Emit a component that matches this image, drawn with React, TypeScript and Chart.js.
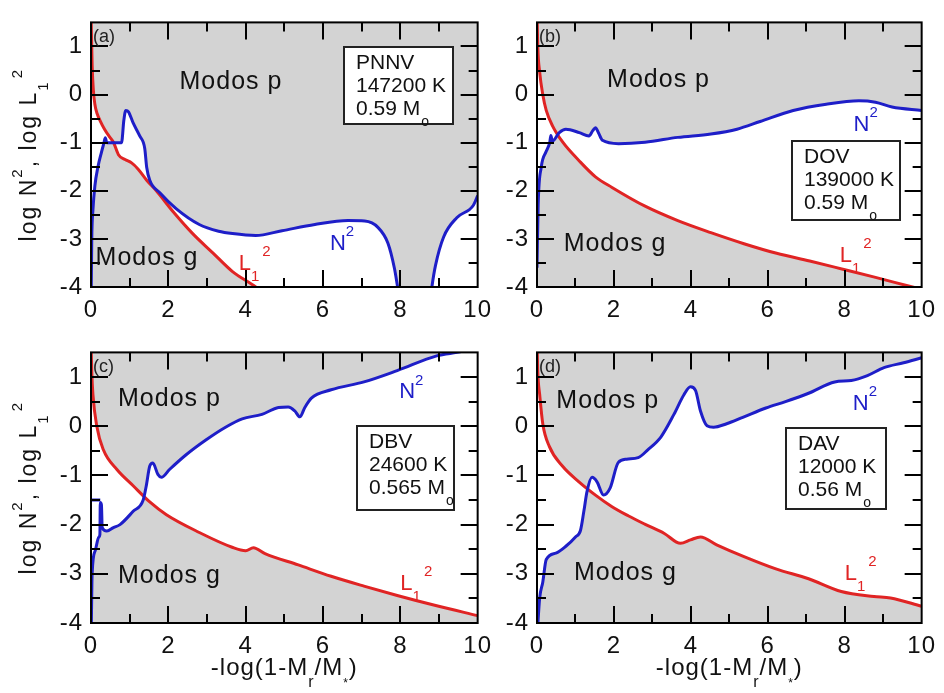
import React, { useEffect, useRef } from "react";
import { Chart, registerables } from "chart.js";
Chart.register(...registerables);

// ---------- ticks ----------
const X_TICKS = [0, 2, 4, 6, 8, 10];
const X_MINOR = [1, 3, 5, 7, 9];
const Y_TICKS = [-4, -3, -2, -1, 0, 1];
const Y_MINOR = [-3.5, -2.5, -1.5, -0.5, 0.5];

// ---------- panel (a) PNNV ----------
const aN2X = [0, 0.02, 0.05, 0.1, 0.18, 0.27, 0.33, 0.37, 0.41, 0.5, 0.65, 0.79, 0.85, 0.9, 0.97, 1.09, 1.26, 1.39, 1.44, 1.52, 1.78, 2.2, 2.8, 3.3, 3.66, 4.26, 4.94, 5.79, 6.65, 7.08, 7.42, 7.68, 7.85, 7.93, 8.1, 8.4, 8.7, 8.82, 8.91, 9.12, 9.46, 9.89, 10];
const aN2Y = [-4.6, -3.0, -2.4, -1.9, -1.5, -1.2, -1.02, -0.9, -1.0, -1.0, -1.0, -1.0, -0.53, -0.33, -0.36, -0.59, -0.86, -1.12, -1.51, -1.78, -2.04, -2.37, -2.7, -2.84, -2.89, -2.93, -2.83, -2.7, -2.62, -2.63, -2.76, -3.09, -3.62, -4.0, -4.8, -5.5, -4.8, -3.98, -3.55, -2.96, -2.56, -2.3, -2.1];
const aL2X = [0, 0.03, 0.06, 0.1, 0.16, 0.24, 0.35, 0.48, 0.58, 0.71, 0.88, 1.05, 1.22, 1.44, 1.69, 2.12, 2.63, 3.15, 3.66, 4.26, 5, 6, 7, 8, 9, 10];
const aL2Y = [1.7, 0.6, 0.1, -0.2, -0.4, -0.55, -0.72, -0.88, -0.99, -1.25, -1.35, -1.42, -1.55, -1.78, -2.0, -2.43, -2.89, -3.29, -3.68, -4.0, -4.5, -5.0, -5.5, -6.0, -6.4, -6.8];

// ---------- panel (b) DOV ----------
const bN2X = [0, 0.03, 0.11, 0.24, 0.33, 0.36, 0.4, 0.58, 0.75, 1.1, 1.35, 1.45, 1.52, 1.6, 1.7, 2.12, 2.81, 3.66, 4.52, 5.2, 5.8, 6.66, 7.52, 8.37, 8.8, 9.23, 10];
const bN2Y = [-3.6, -2.3, -1.51, -1.18, -1.0, -0.85, -0.97, -0.79, -0.72, -0.79, -0.86, -0.75, -0.69, -0.8, -0.95, -1.02, -0.99, -0.89, -0.82, -0.72, -0.56, -0.33, -0.2, -0.13, -0.16, -0.26, -0.33];
const bL2X = [0, 0.02, 0.07, 0.15, 0.24, 0.41, 0.67, 1.1, 1.52, 1.95, 2.81, 3.66, 4.52, 5.38, 6.23, 7.09, 7.95, 8.8, 9.66, 10];
const bL2Y = [1.7, 1.0, 0.46, 0.0, -0.33, -0.66, -0.99, -1.38, -1.71, -1.93, -2.32, -2.62, -2.87, -3.1, -3.3, -3.46, -3.63, -3.8, -3.98, -4.05];

// ---------- panel (c) DBV ----------
const cN2X = [0, 0.03, 0.11, 0.2, 0.23, 0.24, 0.27, 0.29, 0.41, 0.58, 0.75, 1.09, 1.35, 1.43, 1.52, 1.6, 1.73, 1.82, 2.03, 2.46, 2.97, 3.48, 3.91, 4.42, 4.85, 5.1, 5.27, 5.4, 5.53, 5.7, 6.21, 7.06, 7.92, 8.94, 9.6, 10];
const cN2Y = [-4.6, -2.99, -2.53, -2.26, -2.2, -1.55, -1.6, -2.06, -2.13, -2.06, -2.0, -1.73, -1.5, -1.21, -0.81, -0.75, -0.98, -1.04, -0.88, -0.58, -0.28, -0.02, 0.15, 0.24, 0.38, 0.39, 0.31, 0.19, 0.38, 0.57, 0.74, 0.9, 1.13, 1.43, 1.52, 1.62];
const cSurfX = [0, 0.24];
const cSurfY = [-1.5, -1.5];
const cL2X = [0, 0.02, 0.05, 0.15, 0.32, 0.67, 1.09, 1.52, 1.95, 2.8, 3.65, 4.0, 4.2, 4.5, 5.36, 6.21, 7.06, 7.92, 8.94, 10];
const cL2Y = [1.7, 1.1, 0.64, 0.0, -0.48, -0.88, -1.21, -1.54, -1.8, -2.16, -2.46, -2.53, -2.47, -2.59, -2.82, -3.05, -3.25, -3.44, -3.65, -3.85];

// ---------- panel (d) DAV ----------
const dN2X = [0, 0.07, 0.15, 0.24, 0.49, 0.75, 1.0, 1.13, 1.22, 1.3, 1.43, 1.56, 1.73, 1.9, 2.11, 2.33, 2.63, 2.88, 3.22, 3.56, 3.82, 3.99, 4.12, 4.25, 4.42, 4.59, 4.93, 5.35, 5.95, 6.46, 7.06, 7.74, 8.17, 8.59, 9.02, 9.53, 10];
const dN2Y = [-4.3, -3.49, -3.17, -2.71, -2.58, -2.44, -2.25, -2.12, -1.72, -1.33, -1.04, -1.13, -1.4, -1.26, -0.74, -0.67, -0.64, -0.48, -0.22, 0.24, 0.64, 0.8, 0.73, 0.31, 0.01, -0.02, 0.05, 0.18, 0.37, 0.5, 0.67, 0.9, 0.93, 1.03, 1.19, 1.29, 1.39];
const dL2X = [0, 0.02, 0.07, 0.15, 0.32, 0.66, 1.09, 1.52, 1.94, 2.37, 2.8, 3.31, 3.73, 3.99, 4.25, 4.67, 5.35, 6.21, 7.06, 7.91, 8.76, 9.19, 10];
const dL2Y = [1.7, 1.1, 0.64, 0.05, -0.41, -0.81, -1.13, -1.4, -1.63, -1.82, -1.99, -2.18, -2.38, -2.31, -2.25, -2.41, -2.64, -2.9, -3.1, -3.36, -3.46, -3.49, -3.66];

// ---------- text ----------
const PANEL_TAGS = ["(a)", "(b)", "(c)", "(d)"];
const STAR_NAMES = ["PNNV", "DOV", "DBV", "DAV"];
const STAR_TEFF = ["147200 K", "139000 K", "24600 K", "12000 K"];
const STAR_MASS = ["0.59 M", "0.59 M", "0.565 M", "0.56 M"];
const P_LABEL = "Modos p";
const G_LABEL = "Modos g";

// ---------- style ----------
const FONT = '"Liberation Sans", Arial, Helvetica, sans-serif';
const GRAY = "#d3d3d3";
const BLUE = "#1e1ec8";
const RED = "#e02424";
const MAJ = 17;
const MIN = 9;

type Part = { t: string; m?: "sup" | "sub"; gap?: number; sc?: number };

function drawRich(
  ctx: CanvasRenderingContext2D,
  parts: Part[],
  x: number,
  y: number,
  size: number,
  color: string,
  align: "left" | "center",
  ls = 0
) {
  ctx.save();
  ctx.fillStyle = color;
  ctx.textAlign = "left";
  ctx.textBaseline = "alphabetic";
  (ctx as any).letterSpacing = ls + "px";
  const items = parts.map((p) => {
    const s = p.m ? Math.round(size * (p.sc || 0.66)) : size;
    ctx.font = `${s}px ${FONT}`;
    return { ...p, s, w: ctx.measureText(p.t).width + (p.gap || 0) };
  });
  const total = items.reduce((acc, it) => acc + it.w, 0);
  let cx = align === "center" ? x - total / 2 : x;
  for (const it of items) {
    ctx.font = `${it.s}px ${FONT}`;
    const dy = it.m === "sup" ? -size * 0.62 : it.m === "sub" ? size * 0.5 : 0;
    ctx.fillText(it.t, cx + (it.gap || 0), y + dy);
    cx += it.w;
  }
  ctx.restore();
}

interface PanelCfg {
  idx: number;
  n2x: number[];
  n2y: number[];
  l2x: number[];
  l2y: number[];
  ex?: number[];
  ey?: number[];
  left: number;
  top: number;
  w: number;
  h: number;
  pad: { left: number; top: number; right: number; bottom: number };
  yw: number;
  xh: number;
  yTitle: boolean;
  xTitle: boolean;
  pPos: [number, number];
  gPos: [number, number];
  nPos: [number, number];
  lPos: [number, number];
  box: [number, number, number, number];
}

const PANELS: PanelCfg[] = [
  {
    idx: 0, n2x: aN2X, n2y: aN2Y, l2x: aL2X, l2y: aL2Y,
    left: 0, top: 0, w: 500, h: 330,
    pad: { left: 0, top: 8, right: 19, bottom: 0 }, yw: 91, xh: 43,
    yTitle: true, xTitle: false,
    pPos: [3.62, 0.12], gPos: [1.45, -3.54], nPos: [6.18, -3.23], lPos: [3.82, -3.64],
    box: [6.54, 0.99, 109, 77],
  },
  {
    idx: 1, n2x: bN2X, n2y: bN2Y, l2x: bL2X, l2y: bL2Y,
    left: 490, top: 0, w: 454, h: 330,
    pad: { left: 0, top: 8, right: 17, bottom: 0 }, yw: 47, xh: 43,
    yTitle: false, xTitle: false,
    pPos: [3.16, 0.16], gPos: [2.03, -3.25], nPos: [8.23, -0.76], lPos: [7.87, -3.48],
    box: [6.63, -0.96, 108, 79],
  },
  {
    idx: 2, n2x: cN2X, n2y: cN2Y, l2x: cL2X, l2y: cL2Y, ex: cSurfX, ey: cSurfY,
    left: 0, top: 330, w: 500, h: 363,
    pad: { left: 0, top: 13, right: 19, bottom: 0 }, yw: 91, xh: 70,
    yTitle: true, xTitle: true,
    pPos: [2.03, 0.41], gPos: [2.03, -3.18], nPos: [7.97, 0.57], lPos: [8.0, -3.32],
    box: [6.87, 0.0, 97, 84],
  },
  {
    idx: 3, n2x: dN2X, n2y: dN2Y, l2x: dL2X, l2y: dL2Y,
    left: 490, top: 330, w: 454, h: 363,
    pad: { left: 0, top: 13, right: 17, bottom: 0 }, yw: 47, xh: 70,
    yTitle: false, xTitle: true,
    pPos: [1.84, 0.37], gPos: [2.3, -3.12], nPos: [8.21, 0.33], lPos: [8.0, -3.12],
    box: [6.47, -0.04, 100, 81],
  },
];

function pts(xs: number[], ys: number[]) {
  return xs.map((x, i) => ({ x, y: ys[i] }));
}

function makePlugin(p: PanelCfg) {
  return {
    id: "panelDeco" + p.idx,
    beforeDraw(chart: any) {
      const { ctx, chartArea: a } = chart;
      ctx.save();
      ctx.fillStyle = GRAY;
      ctx.fillRect(a.left, a.top, a.right - a.left, a.bottom - a.top);
      ctx.restore();
      (ctx as any).letterSpacing = "1px";
    },
    afterDatasetsDraw(chart: any) {
      const { ctx, chartArea: a } = chart;
      const xs = chart.scales.x;
      const ys = chart.scales.y;
      ctx.save();
      ctx.strokeStyle = "#000";
      ctx.lineWidth = 2;
      ctx.beginPath();
      const vt = (v: number, len: number) => {
        const px = Math.round(xs.getPixelForValue(v));
        if (px <= a.left + 1 || px >= a.right - 1) return;
        ctx.moveTo(px, a.bottom);
        ctx.lineTo(px, a.bottom - len);
        ctx.moveTo(px, a.top);
        ctx.lineTo(px, a.top + len);
      };
      const ht = (v: number, len: number) => {
        const py = Math.round(ys.getPixelForValue(v));
        if (py <= a.top + 1 || py >= a.bottom - 1) return;
        ctx.moveTo(a.left, py);
        ctx.lineTo(a.left + len, py);
        ctx.moveTo(a.right, py);
        ctx.lineTo(a.right - len, py);
      };
      X_TICKS.forEach((v) => vt(v, MAJ));
      X_MINOR.forEach((v) => vt(v, MIN));
      Y_TICKS.forEach((v) => ht(v, MAJ));
      Y_MINOR.forEach((v) => ht(v, MIN));
      ctx.stroke();
      ctx.strokeRect(a.left, a.top, a.right - a.left, a.bottom - a.top);
      ctx.restore();

      const X = (v: number) => xs.getPixelForValue(v);
      const Y = (v: number) => ys.getPixelForValue(v);

      // panel tag
      drawRich(ctx, [{ t: PANEL_TAGS[p.idx] }], a.left + 2, a.top + 20, 18, "#222", "left", 0);
      // region labels
      drawRich(ctx, [{ t: P_LABEL }], X(p.pPos[0]), Y(p.pPos[1]), 25, "#111", "center", 1);
      drawRich(ctx, [{ t: G_LABEL }], X(p.gPos[0]), Y(p.gPos[1]), 25, "#111", "center", 1);
      // curve labels
      drawRich(ctx, [{ t: "N" }, { t: "2", m: "sup" }], X(p.nPos[0]), Y(p.nPos[1]), 22, BLUE, "left", 0);
      drawRich(
        ctx,
        [{ t: "L" }, { t: "1", m: "sub" }, { t: "2", m: "sup", gap: 3 }],
        X(p.lPos[0]),
        Y(p.lPos[1]),
        22,
        RED,
        "left",
        0
      );
      // info box
      const bx = Math.round(X(p.box[0]));
      const by = Math.round(Y(p.box[1]));
      ctx.save();
      ctx.fillStyle = "#fff";
      ctx.fillRect(bx, by, p.box[2], p.box[3]);
      ctx.strokeStyle = "#222";
      ctx.lineWidth = 2;
      ctx.strokeRect(bx, by, p.box[2], p.box[3]);
      ctx.restore();
      drawRich(ctx, [{ t: STAR_NAMES[p.idx] }], bx + 12, by + 22, 21, "#111", "left", 0);
      drawRich(ctx, [{ t: STAR_TEFF[p.idx] }], bx + 12, by + 45, 21, "#111", "left", 0);
      drawRich(ctx, [{ t: STAR_MASS[p.idx] }, { t: "o", m: "sub", gap: 1 }], bx + 12, by + 68, 21, "#111", "left", 0);

      // axis titles
      if (p.yTitle) {
        ctx.save();
        ctx.translate(36, (a.top + a.bottom) / 2);
        ctx.rotate(-Math.PI / 2);
        drawRich(
          ctx,
          [
            { t: "log N" },
            { t: "2", m: "sup" },
            { t: ", log L" },
            { t: "1", m: "sub" },
            { t: "2", m: "sup", gap: 2 },
          ],
          0,
          0,
          23,
          "#111",
          "center",
          2
        );
        ctx.restore();
      }
      if (p.xTitle) {
        drawRich(
          ctx,
          [
            { t: "-log(1-M" },
            { t: "r", m: "sub" },
            { t: "/M" },
            { t: "*", m: "sub", sc: 0.5 },
            { t: ")" },
          ],
          (a.left + a.right) / 2,
          a.bottom + 52,
          24,
          "#111",
          "center",
          1
        );
      }
    },
  };
}

function buildConfig(p: PanelCfg): any {
  const datasets: any[] = [
    {
      data: pts(p.n2x, p.n2y),
      borderColor: BLUE,
      borderWidth: 3,
      pointRadius: 0,
      cubicInterpolationMode: "monotone",
      fill: { target: 1, above: "#ffffff", below: "#ffffff" },
      backgroundColor: "#ffffff",
    },
    {
      data: pts(p.l2x, p.l2y),
      borderColor: RED,
      borderWidth: 3,
      pointRadius: 0,
      cubicInterpolationMode: "monotone",
      fill: false,
    },
  ];
  if (p.ex && p.ey) {
    datasets.push({
      data: pts(p.ex, p.ey),
      borderColor: BLUE,
      borderWidth: 3,
      pointRadius: 0,
      fill: false,
    });
  }
  const tickFont = { family: FONT, size: 24 };
  return {
    type: "line",
    data: { datasets },
    options: {
      responsive: false,
      animation: false,
      devicePixelRatio: 1,
      layout: { padding: p.pad },
      plugins: {
        legend: { display: false },
        tooltip: { enabled: false },
        filler: { drawTime: "beforeDatasetsDraw", propagate: false },
      },
      scales: {
        x: {
          type: "linear",
          min: 0,
          max: 10,
          grid: { display: false, drawTicks: false },
          border: { display: false },
          ticks: { font: tickFont, color: "#111", padding: 9, maxRotation: 0, autoSkip: false },
          afterBuildTicks: (s: any) => {
            s.ticks = X_TICKS.map((v) => ({ value: v }));
          },
          afterFit: (s: any) => {
            s.height = p.xh;
          },
        },
        y: {
          type: "linear",
          min: -4,
          max: 1.5,
          grid: { display: false, drawTicks: false },
          border: { display: false },
          ticks: { font: tickFont, color: "#111", padding: 8, autoSkip: false },
          afterBuildTicks: (s: any) => {
            s.ticks = Y_TICKS.map((v) => ({ value: v }));
          },
          afterFit: (s: any) => {
            s.width = p.yw;
          },
        },
      },
    },
    plugins: [makePlugin(p)],
  };
}

function Panel({ cfg }: { cfg: PanelCfg }) {
  const ref = useRef<HTMLCanvasElement>(null);
  useEffect(() => {
    const chart = new Chart(ref.current as HTMLCanvasElement, buildConfig(cfg));
    return () => chart.destroy();
  }, [cfg]);
  return (
    <canvas
      ref={ref}
      width={cfg.w}
      height={cfg.h}
      style={{ position: "absolute", left: cfg.left, top: cfg.top, width: cfg.w, height: cfg.h }}
    />
  );
}

export default function App() {
  return (
    <div style={{ position: "absolute", left: 0, top: 0, width: 944, height: 693, background: "#fff", overflow: "hidden" }}>
      {PANELS.map((p) => (
        <Panel key={p.idx} cfg={p} />
      ))}
    </div>
  );
}
